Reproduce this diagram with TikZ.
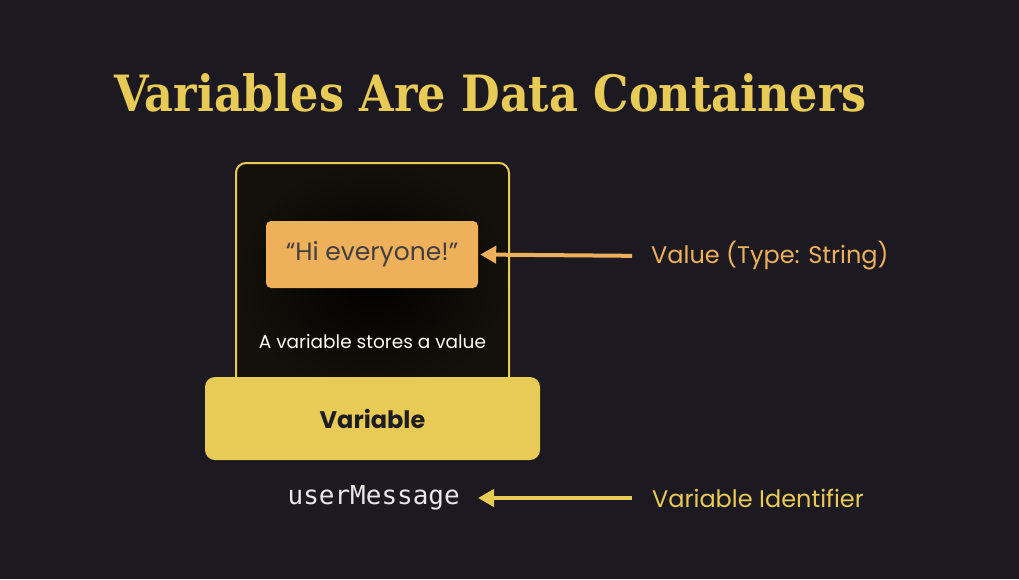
\documentclass[tikz,border=0pt]{standalone}
\usepackage{fontspec}
\setmainfont{Poppins}
\newfontfamily\titlefont[FakeStretch=0.89]{DejaVu Serif}
\setmonofont{DejaVu Sans Mono}
\usetikzlibrary{arrows.meta}
\definecolor{bg}{RGB}{28,26,32}
\definecolor{gold}{RGB}{232,202,86}
\definecolor{peach}{RGB}{238,176,90}
\definecolor{ink}{RGB}{31,29,34}
\definecolor{shell}{RGB}{20,17,10}

\begin{document}
\begin{tikzpicture}[x=1pt, y=-1pt,
					box/.style={rounded corners=10pt, inner sep=0pt},
					tag/.style={inner sep=0pt, font=\fontsize{24}{30}\selectfont},
					post/.style={{Triangle[length=16pt, width=17pt]}-, line width=4pt}]
	\fill[bg] (0,0) rectangle (1019,579);
	\useasboundingbox (0,0) rectangle (1019,579);
	\node[text=gold, font=\titlefont\bfseries\fontsize{50}{60}\selectfont] (title) at (490.5,93) {Variables Are Data Containers};
	% the container
	\node[box, draw=gold, line width=2pt, inner color=black, outer color=shell, minimum width=273pt, minimum height=230pt] (shell) at (372.5,278) {};
	\node[box, fill=gold, minimum width=335pt, minimum height=83pt, font=\bfseries\fontsize{24}{28}\selectfont, text=ink] (var) at (372.5,418.5) {Variable};
	\node[box, rounded corners=5pt, fill=peach, minimum width=212pt, minimum height=67pt, font=\fontsize{25}{30}\selectfont, text=ink!85!white] (value) at (372,254.5) {“Hi everyone!”};
	\node[font=\fontsize{18.5}{24}\selectfont, text=white!92!gold] (note) at (372.5,342) {A variable stores a value};
	% labels on the right
	\node[tag, anchor=west, text=peach] (vlabel) at (651,256) {Value (Type: String)};
	\node[inner sep=0pt, anchor=east, font=\ttfamily\fontsize{26}{30}\selectfont, text=white!90!bg] (ident) at (460,498) {userMessage};
	\node[tag, anchor=west, text=gold] (ilabel) at (652,498) {Variable Identifier};
	\draw[post, peach, shorten <=2pt, shorten >=19pt] (value.east) -- (vlabel.west);
	\draw[post, gold, shorten <=18pt, shorten >=20pt] (ident.east) -- (ilabel.west);
\end{tikzpicture}
\end{document}
